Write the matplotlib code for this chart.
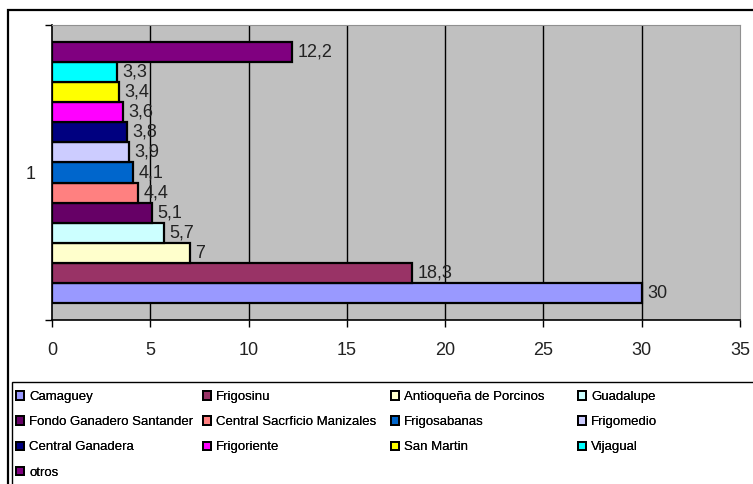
import matplotlib.pyplot as plt
from matplotlib.patches import Patch, Rectangle

plt.rcParams['font.family'] = ['Liberation Sans', 'DejaVu Sans']

# series, in Excel order (first = bottom bar)
names = ['Camaguey', 'Frigosinu', 'Antioqueña de Porcinos', 'Guadalupe',
         'Fondo Ganadero Santander', 'Central Sacrficio Manizales', 'Frigosabanas',
         'Frigomedio', 'Central Ganadera', 'Frigoriente', 'San Martin', 'Vijagual',
         'otros']
values = [30, 18.3, 7, 5.7, 5.1, 4.4, 4.1, 3.9, 3.8, 3.6, 3.4, 3.3, 12.2]
colors = ['#9999FF', '#993366', '#FFFFCC', '#CCFFFF', '#660066', '#FF8080',
          '#0066CC', '#CCCCFF', '#000080', '#FF00FF', '#FFFF00', '#00FFFF',
          '#800080']
xticks = [0, 5, 10, 15, 20, 25, 30, 35]
category = '1'

fig = plt.figure(figsize=(7.53, 4.84), dpi=100)
ax = fig.add_axes([52/753, 1 - 320/484, 688/753, 295/484])
ax.set_facecolor('#C0C0C0')

# bars fill ~89% of the single category, no gap between them
group = 0.888
h = group / len(values)
start = 0.5 - group / 2
for i, (v, c) in enumerate(zip(values, colors)):
    y = start + h * (i + 0.5)
    ax.barh(y, v, height=h, color=c, edgecolor='black', linewidth=1.6, zorder=3)
    lab = ('%g' % v).replace('.', ',')
    ax.annotate(lab, (v, y), xytext=(4, 0), textcoords='offset points',
                va='center', ha='left', fontsize=13, color='#222222', zorder=4)

ax.set_xlim(0, 35)
ax.set_ylim(0, 1)
ax.set_xticks(xticks)
ax.set_xticklabels([str(t) for t in xticks], fontsize=13, color='#222222')
ax.tick_params(axis='x', direction='out', length=5, width=1, pad=11)
ax.set_yticks([0, 1])
ax.set_yticklabels([])
ax.tick_params(axis='y', which='major', direction='out', length=5, width=1)
ax.set_yticks([0.5], minor=True)
ax.set_yticklabels([category], minor=True, fontsize=13, color='#222222')
ax.tick_params(axis='y', which='minor', length=0, pad=12)

for x in xticks[1:-1]:
    ax.axvline(x, color='black', linewidth=1, zorder=1)
ax.spines['top'].set_color('#909090')
ax.spines['right'].set_color('#909090')
ax.spines['left'].set_linewidth(1.2)
ax.spines['bottom'].set_linewidth(1.2)

# outer chart border and legend box (both run off the figure edge)
fig.patches.append(Rectangle((8/753, -0.1), 1.2, 1 - 10/484 + 0.1,
                             transform=fig.transFigure, fill=False,
                             edgecolor='black', linewidth=1.6))
fig.patches.append(Rectangle((12/753, -0.1), 1.2, 1 - 382/484 + 0.1,
                             transform=fig.transFigure, fill=False,
                             edgecolor='black', linewidth=1.0))

# legend filled row-wise like Excel, four fixed-width columns
col_x = [16, 203, 391, 578]
for c, x0 in enumerate(col_x):
    idx = list(range(c, len(names), 4))
    handles = [Patch(facecolor=colors[i], edgecolor='black', linewidth=1.4) for i in idx]
    leg = fig.legend(handles, [names[i] for i in idx], loc='upper left',
                     bbox_to_anchor=(x0/753, 1 - 391/484), frameon=False,
                     fontsize=9.5, handlelength=0.6, handleheight=0.6,
                     handletextpad=0.4, labelspacing=1.0, borderpad=0,
                     borderaxespad=0)
    fig.add_artist(leg)

fig.savefig('out.png', dpi=100)
